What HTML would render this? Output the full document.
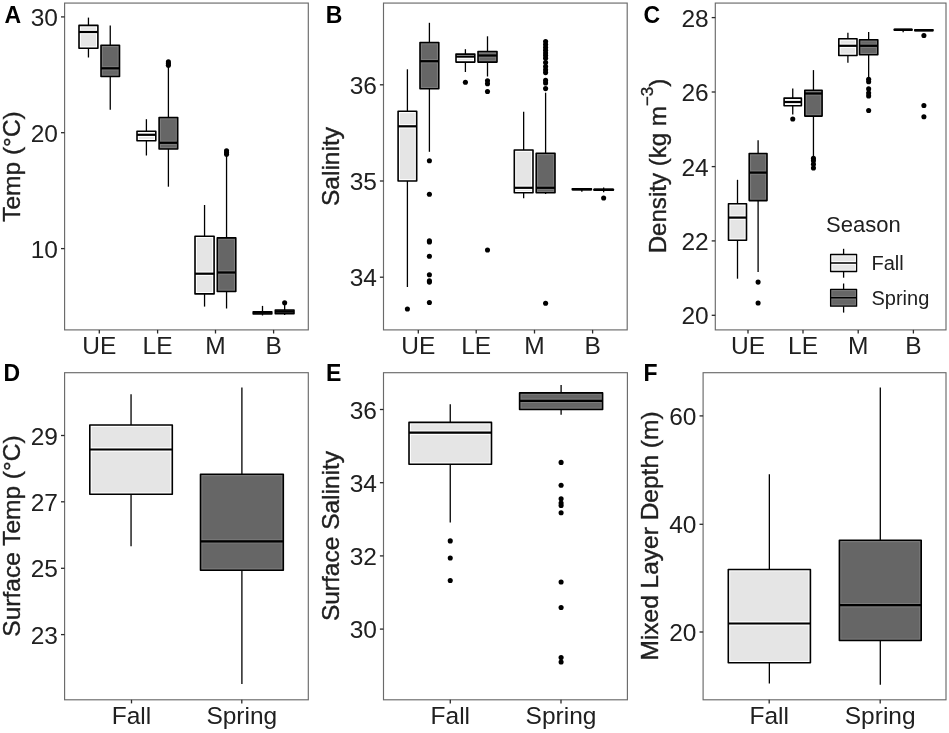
<!DOCTYPE html>
<html><head><meta charset="utf-8"><title>Boxplots</title>
<style>
html,body{margin:0;padding:0;background:#fff;}
body{width:949px;height:733px;overflow:hidden;}
svg{display:block;will-change:transform;}
text{font-family:"Liberation Sans",sans-serif;fill:#202020;}
.ax{font-size:24.5px;}
.tt{font-size:24.5px;stroke:#202020;stroke-width:0.35px;}
.lt{font-size:23px;font-weight:bold;fill:#000;}
.lg{font-size:20px;}
.lgt{font-size:22px;}
</style></head>
<body>
<svg width="949" height="733" viewBox="0 0 949 733">
<rect width="949" height="733" fill="#fff"/>
<rect x="64.6" y="3.07" width="243.70000000000002" height="326.83" fill="none" stroke="#6a6a6a" stroke-width="1.15"/>
<line x1="61.00" y1="16.9" x2="64.6" y2="16.9" stroke="#2a2a2a" stroke-width="1.3"/>
<text x="58.00" y="25.90" text-anchor="end" class="ax">30</text>
<line x1="61.00" y1="132.7" x2="64.6" y2="132.7" stroke="#2a2a2a" stroke-width="1.3"/>
<text x="58.00" y="141.70" text-anchor="end" class="ax">20</text>
<line x1="61.00" y1="248.6" x2="64.6" y2="248.6" stroke="#2a2a2a" stroke-width="1.3"/>
<text x="58.00" y="257.60" text-anchor="end" class="ax">10</text>
<line x1="99.3" y1="329.9" x2="99.3" y2="333.5" stroke="#2a2a2a" stroke-width="1.3"/>
<text x="99.3" y="354.10" text-anchor="middle" class="ax">UE</text>
<line x1="157.6" y1="329.9" x2="157.6" y2="333.5" stroke="#2a2a2a" stroke-width="1.3"/>
<text x="157.6" y="354.10" text-anchor="middle" class="ax">LE</text>
<line x1="215.5" y1="329.9" x2="215.5" y2="333.5" stroke="#2a2a2a" stroke-width="1.3"/>
<text x="215.5" y="354.10" text-anchor="middle" class="ax">M</text>
<line x1="273.6" y1="329.9" x2="273.6" y2="333.5" stroke="#2a2a2a" stroke-width="1.3"/>
<text x="273.6" y="354.10" text-anchor="middle" class="ax">B</text>
<line x1="88.45" y1="17.60" x2="88.45" y2="25.40" stroke="#000" stroke-width="1.3"/>
<line x1="88.45" y1="48.30" x2="88.45" y2="57.50" stroke="#000" stroke-width="1.3"/>
<rect x="79.00" y="25.40" width="18.90" height="22.90" fill="#e5e5e5"/>
<rect x="80.35" y="26.75" width="16.20" height="20.20" fill="none" stroke="#ffffff" stroke-width="1.1"/>
<line x1="79.00" y1="30.35" x2="97.90" y2="30.35" stroke="#ffffff" stroke-width="1.1"/>
<line x1="79.00" y1="33.65" x2="97.90" y2="33.65" stroke="#ffffff" stroke-width="1.1"/>
<rect x="79.00" y="25.40" width="18.90" height="22.90" fill="none" stroke="#000" stroke-width="1.6" stroke-linejoin="round"/>
<line x1="79.00" y1="32.00" x2="97.90" y2="32.00" stroke="#000" stroke-width="2.2"/>
<line x1="110.25" y1="25.50" x2="110.25" y2="45.20" stroke="#000" stroke-width="1.3"/>
<line x1="110.25" y1="76.50" x2="110.25" y2="109.80" stroke="#000" stroke-width="1.3"/>
<rect x="101.00" y="45.20" width="18.50" height="31.30" fill="#666666"/>
<rect x="102.35" y="46.55" width="15.80" height="28.60" fill="none" stroke="#7c7c7c" stroke-width="1.1"/>
<line x1="101.00" y1="66.65" x2="119.50" y2="66.65" stroke="#7c7c7c" stroke-width="1.1"/>
<line x1="101.00" y1="69.95" x2="119.50" y2="69.95" stroke="#7c7c7c" stroke-width="1.1"/>
<rect x="101.00" y="45.20" width="18.50" height="31.30" fill="none" stroke="#000" stroke-width="1.6" stroke-linejoin="round"/>
<line x1="101.00" y1="68.30" x2="119.50" y2="68.30" stroke="#000" stroke-width="2.2"/>
<line x1="146.40" y1="119.20" x2="146.40" y2="131.30" stroke="#000" stroke-width="1.3"/>
<line x1="146.40" y1="140.80" x2="146.40" y2="155.50" stroke="#000" stroke-width="1.3"/>
<rect x="137.00" y="131.30" width="18.80" height="9.50" fill="#e5e5e5"/>
<rect x="138.35" y="132.65" width="16.10" height="6.80" fill="none" stroke="#ffffff" stroke-width="1.1"/>
<line x1="137.00" y1="133.15" x2="155.80" y2="133.15" stroke="#ffffff" stroke-width="1.1"/>
<line x1="137.00" y1="136.45" x2="155.80" y2="136.45" stroke="#ffffff" stroke-width="1.1"/>
<rect x="137.00" y="131.30" width="18.80" height="9.50" fill="none" stroke="#000" stroke-width="1.6" stroke-linejoin="round"/>
<line x1="137.00" y1="134.80" x2="155.80" y2="134.80" stroke="#000" stroke-width="2.2"/>
<line x1="168.40" y1="64.00" x2="168.40" y2="117.50" stroke="#000" stroke-width="1.3"/>
<line x1="168.40" y1="149.00" x2="168.40" y2="186.70" stroke="#000" stroke-width="1.3"/>
<rect x="159.10" y="117.50" width="18.60" height="31.50" fill="#666666"/>
<rect x="160.45" y="118.85" width="15.90" height="28.80" fill="none" stroke="#7c7c7c" stroke-width="1.1"/>
<line x1="159.10" y1="141.15" x2="177.70" y2="141.15" stroke="#7c7c7c" stroke-width="1.1"/>
<line x1="159.10" y1="144.45" x2="177.70" y2="144.45" stroke="#7c7c7c" stroke-width="1.1"/>
<rect x="159.10" y="117.50" width="18.60" height="31.50" fill="none" stroke="#000" stroke-width="1.6" stroke-linejoin="round"/>
<line x1="159.10" y1="142.80" x2="177.70" y2="142.80" stroke="#000" stroke-width="2.2"/>
<circle cx="168.40" cy="61.90" r="2.55" fill="#000"/>
<circle cx="168.40" cy="63.50" r="2.55" fill="#000"/>
<circle cx="168.40" cy="65.20" r="2.55" fill="#000"/>
<line x1="204.55" y1="205.00" x2="204.55" y2="236.20" stroke="#000" stroke-width="1.3"/>
<line x1="204.55" y1="293.90" x2="204.55" y2="306.60" stroke="#000" stroke-width="1.3"/>
<rect x="195.00" y="236.20" width="19.10" height="57.70" fill="#e5e5e5"/>
<rect x="196.35" y="237.55" width="16.40" height="55.00" fill="none" stroke="#ffffff" stroke-width="1.1"/>
<line x1="195.00" y1="272.05" x2="214.10" y2="272.05" stroke="#ffffff" stroke-width="1.1"/>
<line x1="195.00" y1="275.35" x2="214.10" y2="275.35" stroke="#ffffff" stroke-width="1.1"/>
<rect x="195.00" y="236.20" width="19.10" height="57.70" fill="none" stroke="#000" stroke-width="1.6" stroke-linejoin="round"/>
<line x1="195.00" y1="273.70" x2="214.10" y2="273.70" stroke="#000" stroke-width="2.2"/>
<line x1="226.55" y1="153.00" x2="226.55" y2="237.90" stroke="#000" stroke-width="1.3"/>
<line x1="226.55" y1="291.50" x2="226.55" y2="308.50" stroke="#000" stroke-width="1.3"/>
<rect x="217.30" y="237.90" width="18.50" height="53.60" fill="#666666"/>
<rect x="218.65" y="239.25" width="15.80" height="50.90" fill="none" stroke="#7c7c7c" stroke-width="1.1"/>
<line x1="217.30" y1="270.85" x2="235.80" y2="270.85" stroke="#7c7c7c" stroke-width="1.1"/>
<line x1="217.30" y1="274.15" x2="235.80" y2="274.15" stroke="#7c7c7c" stroke-width="1.1"/>
<rect x="217.30" y="237.90" width="18.50" height="53.60" fill="none" stroke="#000" stroke-width="1.6" stroke-linejoin="round"/>
<line x1="217.30" y1="272.50" x2="235.80" y2="272.50" stroke="#000" stroke-width="2.2"/>
<circle cx="226.55" cy="150.80" r="2.55" fill="#000"/>
<circle cx="226.55" cy="152.50" r="2.55" fill="#000"/>
<circle cx="226.55" cy="154.20" r="2.55" fill="#000"/>
<line x1="262.50" y1="305.90" x2="262.50" y2="311.70" stroke="#000" stroke-width="1.3"/>
<line x1="262.50" y1="314.00" x2="262.50" y2="315.50" stroke="#000" stroke-width="1.3"/>
<rect x="253.20" y="311.70" width="18.60" height="2.30" fill="#e5e5e5"/>
<rect x="253.20" y="311.70" width="18.60" height="2.30" fill="none" stroke="#000" stroke-width="1.6" stroke-linejoin="round"/>
<line x1="253.20" y1="312.80" x2="271.80" y2="312.80" stroke="#000" stroke-width="2.2"/>
<line x1="284.65" y1="303.00" x2="284.65" y2="310.00" stroke="#000" stroke-width="1.3"/>
<line x1="284.65" y1="313.70" x2="284.65" y2="315.00" stroke="#000" stroke-width="1.3"/>
<rect x="275.30" y="310.00" width="18.70" height="3.70" fill="#666666"/>
<rect x="275.30" y="310.00" width="18.70" height="3.70" fill="none" stroke="#000" stroke-width="1.6" stroke-linejoin="round"/>
<line x1="275.30" y1="311.60" x2="294.00" y2="311.60" stroke="#000" stroke-width="2.2"/>
<circle cx="284.65" cy="302.70" r="2.55" fill="#000"/>
<text transform="translate(20.1,166.5) rotate(-90)" text-anchor="middle" class="tt">Temp (°C)</text>
<text x="4.6" y="23.1" class="lt">A</text>
<rect x="383.5" y="3.07" width="243.70000000000005" height="326.83" fill="none" stroke="#6a6a6a" stroke-width="1.15"/>
<line x1="379.90" y1="84.8" x2="383.5" y2="84.8" stroke="#2a2a2a" stroke-width="1.3"/>
<text x="376.90" y="93.80" text-anchor="end" class="ax">36</text>
<line x1="379.90" y1="181.0" x2="383.5" y2="181.0" stroke="#2a2a2a" stroke-width="1.3"/>
<text x="376.90" y="190.00" text-anchor="end" class="ax">35</text>
<line x1="379.90" y1="277.2" x2="383.5" y2="277.2" stroke="#2a2a2a" stroke-width="1.3"/>
<text x="376.90" y="286.20" text-anchor="end" class="ax">34</text>
<line x1="418.3" y1="329.9" x2="418.3" y2="333.5" stroke="#2a2a2a" stroke-width="1.3"/>
<text x="418.3" y="354.10" text-anchor="middle" class="ax">UE</text>
<line x1="476.2" y1="329.9" x2="476.2" y2="333.5" stroke="#2a2a2a" stroke-width="1.3"/>
<text x="476.2" y="354.10" text-anchor="middle" class="ax">LE</text>
<line x1="534.5" y1="329.9" x2="534.5" y2="333.5" stroke="#2a2a2a" stroke-width="1.3"/>
<text x="534.5" y="354.10" text-anchor="middle" class="ax">M</text>
<line x1="592.6" y1="329.9" x2="592.6" y2="333.5" stroke="#2a2a2a" stroke-width="1.3"/>
<text x="592.6" y="354.10" text-anchor="middle" class="ax">B</text>
<line x1="407.40" y1="69.30" x2="407.40" y2="111.30" stroke="#000" stroke-width="1.3"/>
<line x1="407.40" y1="181.00" x2="407.40" y2="287.00" stroke="#000" stroke-width="1.3"/>
<rect x="398.10" y="111.30" width="18.60" height="69.70" fill="#e5e5e5"/>
<rect x="399.45" y="112.65" width="15.90" height="67.00" fill="none" stroke="#ffffff" stroke-width="1.1"/>
<line x1="398.10" y1="124.65" x2="416.70" y2="124.65" stroke="#ffffff" stroke-width="1.1"/>
<line x1="398.10" y1="127.95" x2="416.70" y2="127.95" stroke="#ffffff" stroke-width="1.1"/>
<rect x="398.10" y="111.30" width="18.60" height="69.70" fill="none" stroke="#000" stroke-width="1.6" stroke-linejoin="round"/>
<line x1="398.10" y1="126.30" x2="416.70" y2="126.30" stroke="#000" stroke-width="2.2"/>
<circle cx="407.40" cy="309.00" r="2.55" fill="#000"/>
<line x1="429.40" y1="22.80" x2="429.40" y2="42.50" stroke="#000" stroke-width="1.3"/>
<line x1="429.40" y1="88.80" x2="429.40" y2="151.80" stroke="#000" stroke-width="1.3"/>
<rect x="420.00" y="42.50" width="18.80" height="46.30" fill="#666666"/>
<rect x="421.35" y="43.85" width="16.10" height="43.60" fill="none" stroke="#7c7c7c" stroke-width="1.1"/>
<line x1="420.00" y1="59.55" x2="438.80" y2="59.55" stroke="#7c7c7c" stroke-width="1.1"/>
<line x1="420.00" y1="62.85" x2="438.80" y2="62.85" stroke="#7c7c7c" stroke-width="1.1"/>
<rect x="420.00" y="42.50" width="18.80" height="46.30" fill="none" stroke="#000" stroke-width="1.6" stroke-linejoin="round"/>
<line x1="420.00" y1="61.20" x2="438.80" y2="61.20" stroke="#000" stroke-width="2.2"/>
<circle cx="429.40" cy="160.80" r="2.55" fill="#000"/>
<circle cx="429.40" cy="194.20" r="2.55" fill="#000"/>
<circle cx="429.40" cy="240.90" r="2.55" fill="#000"/>
<circle cx="429.40" cy="242.00" r="2.55" fill="#000"/>
<circle cx="429.40" cy="256.20" r="2.55" fill="#000"/>
<circle cx="429.40" cy="274.70" r="2.55" fill="#000"/>
<circle cx="429.40" cy="280.90" r="2.55" fill="#000"/>
<circle cx="429.40" cy="282.10" r="2.55" fill="#000"/>
<circle cx="429.40" cy="302.50" r="2.55" fill="#000"/>
<line x1="465.40" y1="49.20" x2="465.40" y2="54.10" stroke="#000" stroke-width="1.3"/>
<line x1="465.40" y1="62.10" x2="465.40" y2="72.00" stroke="#000" stroke-width="1.3"/>
<rect x="456.00" y="54.10" width="18.80" height="8.00" fill="#e5e5e5"/>
<rect x="457.35" y="55.45" width="16.10" height="5.30" fill="none" stroke="#ffffff" stroke-width="1.1"/>
<line x1="456.00" y1="54.95" x2="474.80" y2="54.95" stroke="#ffffff" stroke-width="1.1"/>
<line x1="456.00" y1="58.25" x2="474.80" y2="58.25" stroke="#ffffff" stroke-width="1.1"/>
<rect x="456.00" y="54.10" width="18.80" height="8.00" fill="none" stroke="#000" stroke-width="1.6" stroke-linejoin="round"/>
<line x1="456.00" y1="56.60" x2="474.80" y2="56.60" stroke="#000" stroke-width="2.2"/>
<circle cx="465.40" cy="82.20" r="2.55" fill="#000"/>
<line x1="487.50" y1="36.30" x2="487.50" y2="51.50" stroke="#000" stroke-width="1.3"/>
<line x1="487.50" y1="62.10" x2="487.50" y2="76.50" stroke="#000" stroke-width="1.3"/>
<rect x="478.00" y="51.50" width="19.00" height="10.60" fill="#666666"/>
<rect x="479.35" y="52.85" width="16.30" height="7.90" fill="none" stroke="#7c7c7c" stroke-width="1.1"/>
<line x1="478.00" y1="53.85" x2="497.00" y2="53.85" stroke="#7c7c7c" stroke-width="1.1"/>
<line x1="478.00" y1="57.15" x2="497.00" y2="57.15" stroke="#7c7c7c" stroke-width="1.1"/>
<rect x="478.00" y="51.50" width="19.00" height="10.60" fill="none" stroke="#000" stroke-width="1.6" stroke-linejoin="round"/>
<line x1="478.00" y1="55.50" x2="497.00" y2="55.50" stroke="#000" stroke-width="2.2"/>
<circle cx="487.50" cy="80.80" r="2.55" fill="#000"/>
<circle cx="487.50" cy="83.80" r="2.55" fill="#000"/>
<circle cx="487.50" cy="91.50" r="2.55" fill="#000"/>
<circle cx="487.50" cy="250.00" r="2.55" fill="#000"/>
<line x1="523.65" y1="111.80" x2="523.65" y2="150.00" stroke="#000" stroke-width="1.3"/>
<line x1="523.65" y1="192.80" x2="523.65" y2="198.30" stroke="#000" stroke-width="1.3"/>
<rect x="514.30" y="150.00" width="18.70" height="42.80" fill="#e5e5e5"/>
<rect x="515.65" y="151.35" width="16.00" height="40.10" fill="none" stroke="#ffffff" stroke-width="1.1"/>
<line x1="514.30" y1="186.15" x2="533.00" y2="186.15" stroke="#ffffff" stroke-width="1.1"/>
<line x1="514.30" y1="189.45" x2="533.00" y2="189.45" stroke="#ffffff" stroke-width="1.1"/>
<rect x="514.30" y="150.00" width="18.70" height="42.80" fill="none" stroke="#000" stroke-width="1.6" stroke-linejoin="round"/>
<line x1="514.30" y1="187.80" x2="533.00" y2="187.80" stroke="#000" stroke-width="2.2"/>
<line x1="545.60" y1="92.70" x2="545.60" y2="153.30" stroke="#000" stroke-width="1.3"/>
<line x1="545.60" y1="192.80" x2="545.60" y2="194.00" stroke="#000" stroke-width="1.3"/>
<rect x="536.20" y="153.30" width="18.80" height="39.50" fill="#666666"/>
<rect x="537.55" y="154.65" width="16.10" height="36.80" fill="none" stroke="#7c7c7c" stroke-width="1.1"/>
<line x1="536.20" y1="186.15" x2="555.00" y2="186.15" stroke="#7c7c7c" stroke-width="1.1"/>
<line x1="536.20" y1="189.45" x2="555.00" y2="189.45" stroke="#7c7c7c" stroke-width="1.1"/>
<rect x="536.20" y="153.30" width="18.80" height="39.50" fill="none" stroke="#000" stroke-width="1.6" stroke-linejoin="round"/>
<line x1="536.20" y1="187.80" x2="555.00" y2="187.80" stroke="#000" stroke-width="2.2"/>
<circle cx="545.60" cy="41.60" r="2.55" fill="#000"/>
<circle cx="545.60" cy="44.50" r="2.55" fill="#000"/>
<circle cx="545.60" cy="47.50" r="2.55" fill="#000"/>
<circle cx="545.60" cy="50.30" r="2.55" fill="#000"/>
<circle cx="545.60" cy="53.00" r="2.55" fill="#000"/>
<circle cx="545.60" cy="55.50" r="2.55" fill="#000"/>
<circle cx="545.60" cy="58.20" r="2.55" fill="#000"/>
<circle cx="545.60" cy="62.50" r="2.55" fill="#000"/>
<circle cx="545.60" cy="66.50" r="2.55" fill="#000"/>
<circle cx="545.60" cy="69.70" r="2.55" fill="#000"/>
<circle cx="545.60" cy="72.60" r="2.55" fill="#000"/>
<circle cx="545.60" cy="80.40" r="2.55" fill="#000"/>
<circle cx="545.60" cy="83.00" r="2.55" fill="#000"/>
<circle cx="545.60" cy="88.60" r="2.55" fill="#000"/>
<circle cx="545.60" cy="303.30" r="2.55" fill="#000"/>
<line x1="581.85" y1="189.80" x2="581.85" y2="191.80" stroke="#000" stroke-width="1.3"/>
<rect x="572.30" y="188.80" width="19.10" height="1.00" fill="#e5e5e5"/>
<rect x="572.30" y="188.80" width="19.10" height="1.00" fill="none" stroke="#000" stroke-width="1.6" stroke-linejoin="round"/>
<line x1="572.30" y1="189.30" x2="591.40" y2="189.30" stroke="#000" stroke-width="2.2"/>
<line x1="603.65" y1="187.60" x2="603.65" y2="189.20" stroke="#000" stroke-width="1.3"/>
<line x1="603.65" y1="190.20" x2="603.65" y2="192.30" stroke="#000" stroke-width="1.3"/>
<rect x="594.00" y="189.20" width="19.30" height="1.00" fill="#666666"/>
<rect x="594.00" y="189.20" width="19.30" height="1.00" fill="none" stroke="#000" stroke-width="1.6" stroke-linejoin="round"/>
<line x1="594.00" y1="189.70" x2="613.30" y2="189.70" stroke="#000" stroke-width="2.2"/>
<circle cx="603.65" cy="198.00" r="2.55" fill="#000"/>
<text transform="translate(338.5,166.5) rotate(-90)" text-anchor="middle" class="tt">Salinity</text>
<text x="325.8" y="23.0" class="lt">B</text>
<rect x="715.3" y="3.07" width="230.70000000000005" height="326.83" fill="none" stroke="#6a6a6a" stroke-width="1.15"/>
<line x1="711.70" y1="17.6" x2="715.3" y2="17.6" stroke="#2a2a2a" stroke-width="1.3"/>
<text x="708.70" y="26.60" text-anchor="end" class="ax">28</text>
<line x1="711.70" y1="92.0" x2="715.3" y2="92.0" stroke="#2a2a2a" stroke-width="1.3"/>
<text x="708.70" y="101.00" text-anchor="end" class="ax">26</text>
<line x1="711.70" y1="166.6" x2="715.3" y2="166.6" stroke="#2a2a2a" stroke-width="1.3"/>
<text x="708.70" y="175.60" text-anchor="end" class="ax">24</text>
<line x1="711.70" y1="240.9" x2="715.3" y2="240.9" stroke="#2a2a2a" stroke-width="1.3"/>
<text x="708.70" y="249.90" text-anchor="end" class="ax">22</text>
<line x1="711.70" y1="315.3" x2="715.3" y2="315.3" stroke="#2a2a2a" stroke-width="1.3"/>
<text x="708.70" y="324.30" text-anchor="end" class="ax">20</text>
<line x1="748.0" y1="329.9" x2="748.0" y2="333.5" stroke="#2a2a2a" stroke-width="1.3"/>
<text x="748.0" y="354.10" text-anchor="middle" class="ax">UE</text>
<line x1="803.0" y1="329.9" x2="803.0" y2="333.5" stroke="#2a2a2a" stroke-width="1.3"/>
<text x="803.0" y="354.10" text-anchor="middle" class="ax">LE</text>
<line x1="858.2" y1="329.9" x2="858.2" y2="333.5" stroke="#2a2a2a" stroke-width="1.3"/>
<text x="858.2" y="354.10" text-anchor="middle" class="ax">M</text>
<line x1="913.4" y1="329.9" x2="913.4" y2="333.5" stroke="#2a2a2a" stroke-width="1.3"/>
<text x="913.4" y="354.10" text-anchor="middle" class="ax">B</text>
<line x1="737.50" y1="179.80" x2="737.50" y2="203.80" stroke="#000" stroke-width="1.3"/>
<line x1="737.50" y1="240.20" x2="737.50" y2="278.70" stroke="#000" stroke-width="1.3"/>
<rect x="728.50" y="203.80" width="18.00" height="36.40" fill="#e5e5e5"/>
<rect x="729.85" y="205.15" width="15.30" height="33.70" fill="none" stroke="#ffffff" stroke-width="1.1"/>
<line x1="728.50" y1="215.95" x2="746.50" y2="215.95" stroke="#ffffff" stroke-width="1.1"/>
<line x1="728.50" y1="219.25" x2="746.50" y2="219.25" stroke="#ffffff" stroke-width="1.1"/>
<rect x="728.50" y="203.80" width="18.00" height="36.40" fill="none" stroke="#000" stroke-width="1.6" stroke-linejoin="round"/>
<line x1="728.50" y1="217.60" x2="746.50" y2="217.60" stroke="#000" stroke-width="2.2"/>
<line x1="758.10" y1="140.30" x2="758.10" y2="153.50" stroke="#000" stroke-width="1.3"/>
<line x1="758.10" y1="200.60" x2="758.10" y2="272.00" stroke="#000" stroke-width="1.3"/>
<rect x="749.20" y="153.50" width="17.80" height="47.10" fill="#666666"/>
<rect x="750.55" y="154.85" width="15.10" height="44.40" fill="none" stroke="#7c7c7c" stroke-width="1.1"/>
<line x1="749.20" y1="170.95" x2="767.00" y2="170.95" stroke="#7c7c7c" stroke-width="1.1"/>
<line x1="749.20" y1="174.25" x2="767.00" y2="174.25" stroke="#7c7c7c" stroke-width="1.1"/>
<rect x="749.20" y="153.50" width="17.80" height="47.10" fill="none" stroke="#000" stroke-width="1.6" stroke-linejoin="round"/>
<line x1="749.20" y1="172.60" x2="767.00" y2="172.60" stroke="#000" stroke-width="2.2"/>
<circle cx="758.10" cy="282.10" r="2.55" fill="#000"/>
<circle cx="758.10" cy="303.00" r="2.55" fill="#000"/>
<line x1="792.75" y1="88.60" x2="792.75" y2="98.10" stroke="#000" stroke-width="1.3"/>
<line x1="792.75" y1="105.80" x2="792.75" y2="114.50" stroke="#000" stroke-width="1.3"/>
<rect x="784.10" y="98.10" width="17.30" height="7.70" fill="#e5e5e5"/>
<rect x="785.45" y="99.45" width="14.60" height="5.00" fill="none" stroke="#ffffff" stroke-width="1.1"/>
<line x1="784.10" y1="100.35" x2="801.40" y2="100.35" stroke="#ffffff" stroke-width="1.1"/>
<line x1="784.10" y1="103.65" x2="801.40" y2="103.65" stroke="#ffffff" stroke-width="1.1"/>
<rect x="784.10" y="98.10" width="17.30" height="7.70" fill="none" stroke="#000" stroke-width="1.6" stroke-linejoin="round"/>
<line x1="784.10" y1="102.00" x2="801.40" y2="102.00" stroke="#000" stroke-width="2.2"/>
<circle cx="792.75" cy="119.00" r="2.55" fill="#000"/>
<line x1="813.45" y1="70.10" x2="813.45" y2="90.30" stroke="#000" stroke-width="1.3"/>
<line x1="813.45" y1="116.10" x2="813.45" y2="156.80" stroke="#000" stroke-width="1.3"/>
<rect x="804.80" y="90.30" width="17.30" height="25.80" fill="#666666"/>
<rect x="806.15" y="91.65" width="14.60" height="23.10" fill="none" stroke="#7c7c7c" stroke-width="1.1"/>
<line x1="804.80" y1="91.85" x2="822.10" y2="91.85" stroke="#7c7c7c" stroke-width="1.1"/>
<line x1="804.80" y1="95.15" x2="822.10" y2="95.15" stroke="#7c7c7c" stroke-width="1.1"/>
<rect x="804.80" y="90.30" width="17.30" height="25.80" fill="none" stroke="#000" stroke-width="1.6" stroke-linejoin="round"/>
<line x1="804.80" y1="93.50" x2="822.10" y2="93.50" stroke="#000" stroke-width="2.2"/>
<circle cx="813.45" cy="158.40" r="2.55" fill="#000"/>
<circle cx="813.45" cy="160.80" r="2.55" fill="#000"/>
<circle cx="813.45" cy="164.20" r="2.55" fill="#000"/>
<circle cx="813.45" cy="168.00" r="2.55" fill="#000"/>
<line x1="847.90" y1="32.80" x2="847.90" y2="38.80" stroke="#000" stroke-width="1.3"/>
<line x1="847.90" y1="55.50" x2="847.90" y2="62.80" stroke="#000" stroke-width="1.3"/>
<rect x="838.80" y="38.80" width="18.20" height="16.70" fill="#e5e5e5"/>
<rect x="840.15" y="40.15" width="15.50" height="14.00" fill="none" stroke="#ffffff" stroke-width="1.1"/>
<line x1="838.80" y1="44.15" x2="857.00" y2="44.15" stroke="#ffffff" stroke-width="1.1"/>
<line x1="838.80" y1="47.45" x2="857.00" y2="47.45" stroke="#ffffff" stroke-width="1.1"/>
<rect x="838.80" y="38.80" width="18.20" height="16.70" fill="none" stroke="#000" stroke-width="1.6" stroke-linejoin="round"/>
<line x1="838.80" y1="45.80" x2="857.00" y2="45.80" stroke="#000" stroke-width="2.2"/>
<line x1="868.65" y1="32.00" x2="868.65" y2="39.70" stroke="#000" stroke-width="1.3"/>
<line x1="868.65" y1="54.80" x2="868.65" y2="77.00" stroke="#000" stroke-width="1.3"/>
<rect x="859.50" y="39.70" width="18.30" height="15.10" fill="#666666"/>
<rect x="860.85" y="41.05" width="15.60" height="12.40" fill="none" stroke="#7c7c7c" stroke-width="1.1"/>
<line x1="859.50" y1="44.15" x2="877.80" y2="44.15" stroke="#7c7c7c" stroke-width="1.1"/>
<line x1="859.50" y1="47.45" x2="877.80" y2="47.45" stroke="#7c7c7c" stroke-width="1.1"/>
<rect x="859.50" y="39.70" width="18.30" height="15.10" fill="none" stroke="#000" stroke-width="1.6" stroke-linejoin="round"/>
<line x1="859.50" y1="45.80" x2="877.80" y2="45.80" stroke="#000" stroke-width="2.2"/>
<circle cx="868.65" cy="79.30" r="2.55" fill="#000"/>
<circle cx="868.65" cy="81.80" r="2.55" fill="#000"/>
<circle cx="868.65" cy="88.90" r="2.55" fill="#000"/>
<circle cx="868.65" cy="93.00" r="2.55" fill="#000"/>
<circle cx="868.65" cy="95.90" r="2.55" fill="#000"/>
<circle cx="868.65" cy="110.50" r="2.55" fill="#000"/>
<line x1="903.15" y1="30.30" x2="903.15" y2="32.30" stroke="#000" stroke-width="1.3"/>
<rect x="894.30" y="29.30" width="17.70" height="1.00" fill="#e5e5e5"/>
<rect x="894.30" y="29.30" width="17.70" height="1.00" fill="none" stroke="#000" stroke-width="1.6" stroke-linejoin="round"/>
<line x1="894.30" y1="29.80" x2="912.00" y2="29.80" stroke="#000" stroke-width="2.2"/>
<rect x="914.80" y="29.70" width="18.20" height="1.00" fill="#666666"/>
<rect x="914.80" y="29.70" width="18.20" height="1.00" fill="none" stroke="#000" stroke-width="1.6" stroke-linejoin="round"/>
<line x1="914.80" y1="30.20" x2="933.00" y2="30.20" stroke="#000" stroke-width="2.2"/>
<circle cx="923.90" cy="35.50" r="2.55" fill="#000"/>
<circle cx="923.90" cy="105.50" r="2.55" fill="#000"/>
<circle cx="923.90" cy="116.80" r="2.55" fill="#000"/>
<text transform="translate(665.8,166.0) rotate(-90)" text-anchor="middle" class="tt" style="font-size:24.1px">Density (kg m<tspan dy="-12.5" font-size="17">−3</tspan><tspan dy="12.5">)</tspan></text>
<text x="643.6" y="23.3" class="lt">C</text>
<text x="826.0" y="232.4" class="lgt">Season</text>
<line x1="843.60" y1="248.80" x2="843.60" y2="254.50" stroke="#000" stroke-width="1.3"/>
<line x1="843.60" y1="271.50" x2="843.60" y2="277.70" stroke="#000" stroke-width="1.3"/>
<rect x="830.60" y="254.50" width="26.00" height="17.00" fill="#e5e5e5"/>
<rect x="831.80" y="255.70" width="23.60" height="14.60" fill="none" stroke="#ffffff" stroke-width="1.1"/>
<line x1="830.60" y1="261.70" x2="856.60" y2="261.70" stroke="#ffffff" stroke-width="1.1"/>
<line x1="830.60" y1="264.30" x2="856.60" y2="264.30" stroke="#ffffff" stroke-width="1.1"/>
<rect x="830.60" y="254.50" width="26.00" height="17.00" fill="none" stroke="#000" stroke-width="1.3" stroke-linejoin="round"/>
<line x1="830.60" y1="263.00" x2="856.60" y2="263.00" stroke="#000" stroke-width="1.5"/>
<line x1="843.60" y1="283.50" x2="843.60" y2="289.40" stroke="#000" stroke-width="1.3"/>
<line x1="843.60" y1="306.20" x2="843.60" y2="312.60" stroke="#000" stroke-width="1.3"/>
<rect x="830.60" y="289.40" width="26.00" height="16.80" fill="#666666"/>
<rect x="831.80" y="290.60" width="23.60" height="14.40" fill="none" stroke="#7c7c7c" stroke-width="1.1"/>
<line x1="830.60" y1="296.40" x2="856.60" y2="296.40" stroke="#7c7c7c" stroke-width="1.1"/>
<line x1="830.60" y1="299.00" x2="856.60" y2="299.00" stroke="#7c7c7c" stroke-width="1.1"/>
<rect x="830.60" y="289.40" width="26.00" height="16.80" fill="none" stroke="#000" stroke-width="1.3" stroke-linejoin="round"/>
<line x1="830.60" y1="297.70" x2="856.60" y2="297.70" stroke="#000" stroke-width="1.5"/>
<text x="871.5" y="270.0" class="lg">Fall</text>
<text x="871.5" y="304.7" class="lg">Spring</text>
<rect x="64.6" y="372.7" width="243.70000000000002" height="327.09999999999997" fill="none" stroke="#6a6a6a" stroke-width="1.15"/>
<line x1="61.00" y1="435.5" x2="64.6" y2="435.5" stroke="#2a2a2a" stroke-width="1.3"/>
<text x="58.00" y="444.50" text-anchor="end" class="ax">29</text>
<line x1="61.00" y1="501.8" x2="64.6" y2="501.8" stroke="#2a2a2a" stroke-width="1.3"/>
<text x="58.00" y="510.80" text-anchor="end" class="ax">27</text>
<line x1="61.00" y1="568.3" x2="64.6" y2="568.3" stroke="#2a2a2a" stroke-width="1.3"/>
<text x="58.00" y="577.30" text-anchor="end" class="ax">25</text>
<line x1="61.00" y1="634.6" x2="64.6" y2="634.6" stroke="#2a2a2a" stroke-width="1.3"/>
<text x="58.00" y="643.60" text-anchor="end" class="ax">23</text>
<line x1="131.5" y1="699.8" x2="131.5" y2="703.4" stroke="#2a2a2a" stroke-width="1.3"/>
<text x="131.5" y="724.00" text-anchor="middle" class="ax">Fall</text>
<line x1="241.8" y1="699.8" x2="241.8" y2="703.4" stroke="#2a2a2a" stroke-width="1.3"/>
<text x="241.8" y="724.00" text-anchor="middle" class="ax">Spring</text>
<line x1="131.05" y1="394.30" x2="131.05" y2="425.00" stroke="#000" stroke-width="1.3"/>
<line x1="131.05" y1="494.30" x2="131.05" y2="546.20" stroke="#000" stroke-width="1.3"/>
<rect x="89.80" y="425.00" width="82.50" height="69.30" fill="#e5e5e5"/>
<rect x="91.15" y="426.35" width="79.80" height="66.60" fill="none" stroke="#ffffff" stroke-width="1.1"/>
<line x1="89.80" y1="447.85" x2="172.30" y2="447.85" stroke="#ffffff" stroke-width="1.1"/>
<line x1="89.80" y1="451.15" x2="172.30" y2="451.15" stroke="#ffffff" stroke-width="1.1"/>
<rect x="89.80" y="425.00" width="82.50" height="69.30" fill="none" stroke="#000" stroke-width="1.6" stroke-linejoin="round"/>
<line x1="89.80" y1="449.50" x2="172.30" y2="449.50" stroke="#000" stroke-width="2.2"/>
<line x1="241.90" y1="387.40" x2="241.90" y2="474.30" stroke="#000" stroke-width="1.3"/>
<line x1="241.90" y1="570.20" x2="241.90" y2="684.10" stroke="#000" stroke-width="1.3"/>
<rect x="200.50" y="474.30" width="82.80" height="95.90" fill="#666666"/>
<rect x="201.85" y="475.65" width="80.10" height="93.20" fill="none" stroke="#7c7c7c" stroke-width="1.1"/>
<line x1="200.50" y1="539.75" x2="283.30" y2="539.75" stroke="#7c7c7c" stroke-width="1.1"/>
<line x1="200.50" y1="543.05" x2="283.30" y2="543.05" stroke="#7c7c7c" stroke-width="1.1"/>
<rect x="200.50" y="474.30" width="82.80" height="95.90" fill="none" stroke="#000" stroke-width="1.6" stroke-linejoin="round"/>
<line x1="200.50" y1="541.40" x2="283.30" y2="541.40" stroke="#000" stroke-width="2.2"/>
<text transform="translate(20.4,536.0) rotate(-90)" text-anchor="middle" class="tt">Surface Temp (°C)</text>
<text x="3.6" y="381.4" class="lt">D</text>
<rect x="383.5" y="372.7" width="243.89999999999998" height="327.09999999999997" fill="none" stroke="#6a6a6a" stroke-width="1.15"/>
<line x1="379.90" y1="409.5" x2="383.5" y2="409.5" stroke="#2a2a2a" stroke-width="1.3"/>
<text x="376.90" y="418.50" text-anchor="end" class="ax">36</text>
<line x1="379.90" y1="482.7" x2="383.5" y2="482.7" stroke="#2a2a2a" stroke-width="1.3"/>
<text x="376.90" y="491.70" text-anchor="end" class="ax">34</text>
<line x1="379.90" y1="555.9" x2="383.5" y2="555.9" stroke="#2a2a2a" stroke-width="1.3"/>
<text x="376.90" y="564.90" text-anchor="end" class="ax">32</text>
<line x1="379.90" y1="629.1" x2="383.5" y2="629.1" stroke="#2a2a2a" stroke-width="1.3"/>
<text x="376.90" y="638.10" text-anchor="end" class="ax">30</text>
<line x1="450.3" y1="699.8" x2="450.3" y2="703.4" stroke="#2a2a2a" stroke-width="1.3"/>
<text x="450.3" y="724.00" text-anchor="middle" class="ax">Fall</text>
<line x1="561.0" y1="699.8" x2="561.0" y2="703.4" stroke="#2a2a2a" stroke-width="1.3"/>
<text x="561.0" y="724.00" text-anchor="middle" class="ax">Spring</text>
<line x1="450.25" y1="404.20" x2="450.25" y2="422.40" stroke="#000" stroke-width="1.3"/>
<line x1="450.25" y1="464.30" x2="450.25" y2="522.60" stroke="#000" stroke-width="1.3"/>
<rect x="409.00" y="422.40" width="82.50" height="41.90" fill="#e5e5e5"/>
<rect x="410.35" y="423.75" width="79.80" height="39.20" fill="none" stroke="#ffffff" stroke-width="1.1"/>
<line x1="409.00" y1="431.05" x2="491.50" y2="431.05" stroke="#ffffff" stroke-width="1.1"/>
<line x1="409.00" y1="434.35" x2="491.50" y2="434.35" stroke="#ffffff" stroke-width="1.1"/>
<rect x="409.00" y="422.40" width="82.50" height="41.90" fill="none" stroke="#000" stroke-width="1.6" stroke-linejoin="round"/>
<line x1="409.00" y1="432.70" x2="491.50" y2="432.70" stroke="#000" stroke-width="2.2"/>
<circle cx="450.25" cy="540.90" r="2.55" fill="#000"/>
<circle cx="450.25" cy="558.00" r="2.55" fill="#000"/>
<circle cx="450.25" cy="580.50" r="2.55" fill="#000"/>
<line x1="561.10" y1="385.00" x2="561.10" y2="392.90" stroke="#000" stroke-width="1.3"/>
<line x1="561.10" y1="409.50" x2="561.10" y2="414.80" stroke="#000" stroke-width="1.3"/>
<rect x="519.60" y="392.90" width="83.00" height="16.60" fill="#666666"/>
<rect x="520.95" y="394.25" width="80.30" height="13.90" fill="none" stroke="#7c7c7c" stroke-width="1.1"/>
<line x1="519.60" y1="399.15" x2="602.60" y2="399.15" stroke="#7c7c7c" stroke-width="1.1"/>
<line x1="519.60" y1="402.45" x2="602.60" y2="402.45" stroke="#7c7c7c" stroke-width="1.1"/>
<rect x="519.60" y="392.90" width="83.00" height="16.60" fill="none" stroke="#000" stroke-width="1.6" stroke-linejoin="round"/>
<line x1="519.60" y1="400.80" x2="602.60" y2="400.80" stroke="#000" stroke-width="2.2"/>
<circle cx="561.10" cy="462.40" r="2.55" fill="#000"/>
<circle cx="561.10" cy="485.30" r="2.55" fill="#000"/>
<circle cx="561.10" cy="498.70" r="2.55" fill="#000"/>
<circle cx="561.10" cy="503.00" r="2.55" fill="#000"/>
<circle cx="561.10" cy="505.50" r="2.55" fill="#000"/>
<circle cx="561.10" cy="512.80" r="2.55" fill="#000"/>
<circle cx="561.10" cy="582.00" r="2.55" fill="#000"/>
<circle cx="561.10" cy="607.50" r="2.55" fill="#000"/>
<circle cx="561.10" cy="657.50" r="2.55" fill="#000"/>
<circle cx="561.10" cy="662.00" r="2.55" fill="#000"/>
<text transform="translate(338.6,536.0) rotate(-90)" text-anchor="middle" class="tt">Surface Salinity</text>
<text x="326.0" y="381.4" class="lt">E</text>
<rect x="703.1" y="372.7" width="242.89999999999998" height="327.09999999999997" fill="none" stroke="#6a6a6a" stroke-width="1.15"/>
<line x1="699.50" y1="415.9" x2="703.1" y2="415.9" stroke="#2a2a2a" stroke-width="1.3"/>
<text x="696.50" y="424.90" text-anchor="end" class="ax">60</text>
<line x1="699.50" y1="524.3" x2="703.1" y2="524.3" stroke="#2a2a2a" stroke-width="1.3"/>
<text x="696.50" y="533.30" text-anchor="end" class="ax">40</text>
<line x1="699.50" y1="632.0" x2="703.1" y2="632.0" stroke="#2a2a2a" stroke-width="1.3"/>
<text x="696.50" y="641.00" text-anchor="end" class="ax">20</text>
<line x1="769.2" y1="699.8" x2="769.2" y2="703.4" stroke="#2a2a2a" stroke-width="1.3"/>
<text x="769.2" y="724.00" text-anchor="middle" class="ax">Fall</text>
<line x1="880.2" y1="699.8" x2="880.2" y2="703.4" stroke="#2a2a2a" stroke-width="1.3"/>
<text x="880.2" y="724.00" text-anchor="middle" class="ax">Spring</text>
<line x1="769.35" y1="474.20" x2="769.35" y2="569.50" stroke="#000" stroke-width="1.3"/>
<line x1="769.35" y1="662.80" x2="769.35" y2="683.60" stroke="#000" stroke-width="1.3"/>
<rect x="728.30" y="569.50" width="82.10" height="93.30" fill="#e5e5e5"/>
<rect x="729.65" y="570.85" width="79.40" height="90.60" fill="none" stroke="#ffffff" stroke-width="1.1"/>
<line x1="728.30" y1="621.85" x2="810.40" y2="621.85" stroke="#ffffff" stroke-width="1.1"/>
<line x1="728.30" y1="625.15" x2="810.40" y2="625.15" stroke="#ffffff" stroke-width="1.1"/>
<rect x="728.30" y="569.50" width="82.10" height="93.30" fill="none" stroke="#000" stroke-width="1.6" stroke-linejoin="round"/>
<line x1="728.30" y1="623.50" x2="810.40" y2="623.50" stroke="#000" stroke-width="2.2"/>
<line x1="880.30" y1="387.60" x2="880.30" y2="540.30" stroke="#000" stroke-width="1.3"/>
<line x1="880.30" y1="640.50" x2="880.30" y2="684.80" stroke="#000" stroke-width="1.3"/>
<rect x="839.40" y="540.30" width="81.80" height="100.20" fill="#666666"/>
<rect x="840.75" y="541.65" width="79.10" height="97.50" fill="none" stroke="#7c7c7c" stroke-width="1.1"/>
<line x1="839.40" y1="603.55" x2="921.20" y2="603.55" stroke="#7c7c7c" stroke-width="1.1"/>
<line x1="839.40" y1="606.85" x2="921.20" y2="606.85" stroke="#7c7c7c" stroke-width="1.1"/>
<rect x="839.40" y="540.30" width="81.80" height="100.20" fill="none" stroke="#000" stroke-width="1.6" stroke-linejoin="round"/>
<line x1="839.40" y1="605.20" x2="921.20" y2="605.20" stroke="#000" stroke-width="2.2"/>
<text transform="translate(657.7,536.0) rotate(-90)" text-anchor="middle" class="tt">Mixed Layer Depth (m)</text>
<text x="643.6" y="381.4" class="lt">F</text>
</svg>
</body></html>
